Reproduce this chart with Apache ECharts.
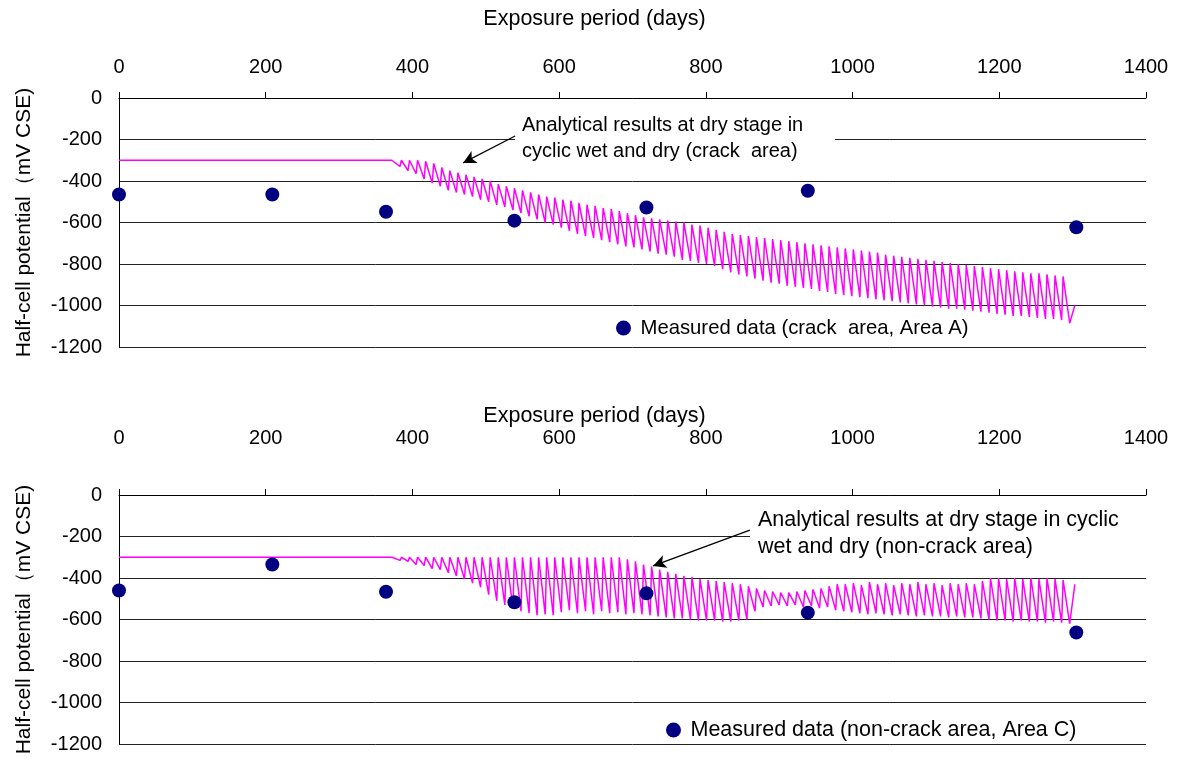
<!DOCTYPE html>
<html>
<head>
<meta charset="utf-8">
<title>Half-cell potential vs exposure period</title>
<script src="https://cdn.jsdelivr.net/npm/echarts/dist/echarts.min.js"></script>
<style>
  html, body { margin: 0; padding: 0; background: #fff; }
  #chart { width: 1181px; height: 760px; }
</style>
</head>
<body>
<div id="chart"></div>
<script>
// measured half-cell potentials (mV CSE)
const measuredDays = [0, 209, 364, 539, 719, 939, 1305];
const crackMeasured = [-465, -465, -548, -591, -528, -447, -623];
const noncrackMeasured = [-460, -335, -466, -517, -474, -567, -663];

// analytical results: flat start, then one peak/trough per wet-dry cycle
const initialPotential = -300;
const cyclingStartDay = 372;
const cycleDays = [
  383, 394, 405, 416, 427, 438, 449, 460, 471, 482,
  493, 504, 515, 526, 537, 548, 559, 570, 581, 592,
  603, 614, 625, 636, 647, 658, 669, 680, 691, 702,
  713, 724, 735, 746, 757, 768, 779, 790, 801, 812,
  823, 834, 845, 856, 867, 878, 889, 900, 911, 922,
  933, 944, 955, 966, 977, 988, 999, 1010, 1021, 1032,
  1043, 1054, 1065, 1076, 1087, 1098, 1109, 1120, 1131, 1142,
  1153, 1164, 1175, 1186, 1197, 1208, 1219, 1230, 1241, 1252,
  1263, 1274, 1285, 1296
];
const crackPeaks = [
  -300, -300, -300, -300, -305, -315, -335, -350, -360, -370,
  -380, -390, -400, -415, -425, -435, -445, -455, -465, -475,
  -480, -490, -495, -505, -515, -520, -530, -535, -545, -555,
  -565, -575, -580, -585, -590, -595, -600, -610, -615, -625,
  -635, -645, -655, -660, -665, -670, -675, -680, -685, -690,
  -695, -700, -705, -710, -715, -720, -725, -730, -735, -740,
  -745, -755, -760, -765, -770, -775, -780, -785, -790, -795,
  -800, -805, -810, -815, -820, -825, -830, -835, -840, -845,
  -845, -850, -855, -860
];
const crackTroughs = [
  -330, -350, -365, -390, -410, -425, -445, -455, -465, -475,
  -490, -500, -515, -525, -540, -555, -570, -585, -600, -610,
  -625, -640, -655, -665, -675, -685, -695, -705, -715, -720,
  -730, -740, -750, -755, -765, -780, -785, -795, -800, -810,
  -825, -840, -850, -860, -870, -880, -890, -895, -905, -910,
  -915, -920, -930, -935, -945, -950, -955, -960, -965, -970,
  -975, -980, -985, -990, -995, -1000, -1005, -1010, -1015, -1015,
  -1020, -1025, -1030, -1035, -1040, -1045, -1050, -1050, -1055, -1060,
  -1065, -1065, -1070, -1085
];
const crackEnd = [1303, -1000];
const noncrackPeaks = [
  -300, -300, -300, -300, -300, -300, -300, -300, -300, -300,
  -300, -300, -300, -300, -300, -300, -300, -300, -300, -300,
  -300, -300, -300, -300, -300, -300, -300, -300, -300, -310,
  -320, -335, -345, -360, -370, -380, -390, -395, -405, -410,
  -415, -420, -425, -430, -440, -450, -460, -465, -470, -470,
  -465, -460, -455, -450, -440, -430, -430, -425, -435, -420,
  -430, -425, -435, -425, -430, -420, -430, -425, -435, -425,
  -430, -425, -430, -415, -400, -400, -405, -400, -405, -400,
  -405, -400, -405, -410
];
const noncrackTroughs = [
  -315, -320, -335, -340, -355, -360, -375, -390, -405, -425,
  -445, -480, -510, -530, -545, -560, -570, -580, -575, -580,
  -565, -555, -570, -560, -575, -560, -570, -565, -575, -570,
  -575, -580, -585, -590, -595, -595, -600, -605, -605, -605,
  -610, -610, -605, -600, -560, -540, -535, -530, -535, -530,
  -540, -535, -545, -540, -555, -560, -565, -570, -575, -570,
  -575, -580, -575, -580, -585, -580, -585, -585, -590, -585,
  -590, -590, -595, -600, -605, -605, -610, -605, -610, -610,
  -615, -610, -615, -620
];
const noncrackEnd = [1303, -430];

const crackLegend = 'Measured data (crack  area, Area A)';
const noncrackLegend = 'Measured data (non-crack area, Area C)';
const fontFamily = '"Liberation Sans", Arial, sans-serif';

function buildCurve(peaks, troughs, endPoint) {
  const pts = [[0, initialPotential], [cyclingStartDay, initialPotential]];
  cycleDays.forEach(function (d, i) {
    pts.push([d - 9, peaks[i]]);
    pts.push([d, troughs[i]]);
  });
  pts.push(endPoint);
  return pts;
}

function pairs(ys) {
  return measuredDays.map(function (d, i) { return [d, ys[i]]; });
}

function plain(v) { return String(v); }

function xAxisFor(idx, labelMargin) {
  return {
    gridIndex: idx,
    type: 'value',
    position: 'top',
    min: 0,
    max: 1400,
    interval: 200,
    name: 'Exposure period (days)',
    nameLocation: 'middle',
    nameGap: 68,
    nameTextStyle: { fontSize: 21.5, color: '#000', fontFamily: fontFamily, padding: [0, 76, 0, 0] },
    axisLine: { show: true, lineStyle: { color: '#000', width: 1 } },
    axisTick: { show: true, length: 6, lineStyle: { color: '#000' } },
    axisLabel: { fontSize: 20, color: '#000', margin: labelMargin, fontFamily: fontFamily, formatter: plain },
    splitLine: { show: false }
  };
}

function yAxisFor(idx) {
  return {
    gridIndex: idx,
    type: 'value',
    min: -1200,
    max: 0,
    interval: 200,
    name: 'Half-cell potential（mV CSE)',
    nameLocation: 'middle',
    nameGap: 84,
    nameTextStyle: { fontSize: 21, color: '#000', fontFamily: fontFamily },
    axisLine: { show: true, onZero: false, lineStyle: { color: '#000', width: 1 } },
    axisTick: { show: false },
    axisLabel: { fontSize: 20, color: '#000', margin: 17, fontFamily: fontFamily, formatter: plain },
    splitLine: { show: true, lineStyle: { color: '#222', width: 1 } }
  };
}

function arrowMark(from, to) {
  return {
    silent: true,
    symbol: ['none', 'arrow'],
    symbolSize: [10, 13],
    label: { show: false },
    lineStyle: { color: '#000', width: 1.3, type: 'solid' },
    emphasis: { disabled: true },
    data: [[{ coord: from }, { coord: to }]]
  };
}

const chart = echarts.init(document.getElementById('chart'));
chart.setOption({
  animation: false,
  textStyle: { fontFamily: fontFamily },
  grid: [
    { left: 119, top: 98, width: 1027, height: 249 },
    { left: 119, top: 495, width: 1027, height: 249 }
  ],
  xAxis: [xAxisFor(0, 21), xAxisFor(1, 47)],
  yAxis: [yAxisFor(0), yAxisFor(1)],
  legend: [
    {
      data: [crackLegend],
      left: 611, top: 313,
      icon: 'circle', itemWidth: 24, itemHeight: 15,
      textStyle: { fontSize: 20.3, color: '#000', fontFamily: fontFamily }
    },
    {
      data: [noncrackLegend],
      left: 661, top: 714,
      icon: 'circle', itemWidth: 24, itemHeight: 15,
      textStyle: { fontSize: 21.5, color: '#000', fontFamily: fontFamily }
    }
  ],
  graphic: [
    {
      type: 'rect', z: 5, silent: true,
      shape: { x: 515, y: 112, width: 320, height: 52 },
      style: { fill: '#fff' }
    },
    {
      type: 'text', z: 6, silent: true, x: 522, y: 112,
      style: {
        text: 'Analytical results at dry stage in\ncyclic wet and dry (crack  area)',
        font: '20px ' + fontFamily, fill: '#000', lineHeight: 26
      }
    },
    {
      type: 'rect', z: 5, silent: true,
      shape: { x: 750, y: 507, width: 397, height: 54 },
      style: { fill: '#fff' }
    },
    {
      type: 'text', z: 6, silent: true, x: 758, y: 507,
      style: {
        text: 'Analytical results at dry stage in cyclic\nwet and dry (non-crack area)',
        font: '21.5px ' + fontFamily, fill: '#000', lineHeight: 27
      }
    }
  ],
  series: [
    {
      name: 'Analytical (crack area)',
      type: 'line',
      xAxisIndex: 0, yAxisIndex: 0,
      showSymbol: false, symbol: 'none',
      lineStyle: { color: '#ff00ff', width: 1.5 },
      emphasis: { disabled: true },
      data: buildCurve(crackPeaks, crackTroughs, crackEnd),
      markLine: arrowMark([540, -183], [469, -313]),
      z: 3
    },
    {
      name: crackLegend,
      type: 'scatter',
      xAxisIndex: 0, yAxisIndex: 0,
      symbol: 'circle', symbolSize: 14,
      itemStyle: { color: '#000080', opacity: 1 },
      data: pairs(crackMeasured),
      z: 4
    },
    {
      name: 'Analytical (non-crack area)',
      type: 'line',
      xAxisIndex: 1, yAxisIndex: 1,
      showSymbol: false, symbol: 'none',
      lineStyle: { color: '#ff00ff', width: 1.5 },
      emphasis: { disabled: true },
      data: buildCurve(noncrackPeaks, noncrackTroughs, noncrackEnd),
      markLine: arrowMark([860, -169], [728, -342]),
      z: 3
    },
    {
      name: noncrackLegend,
      type: 'scatter',
      xAxisIndex: 1, yAxisIndex: 1,
      symbol: 'circle', symbolSize: 14,
      itemStyle: { color: '#000080', opacity: 1 },
      data: pairs(noncrackMeasured),
      z: 4
    }
  ]
});
</script>
</body>
</html>
